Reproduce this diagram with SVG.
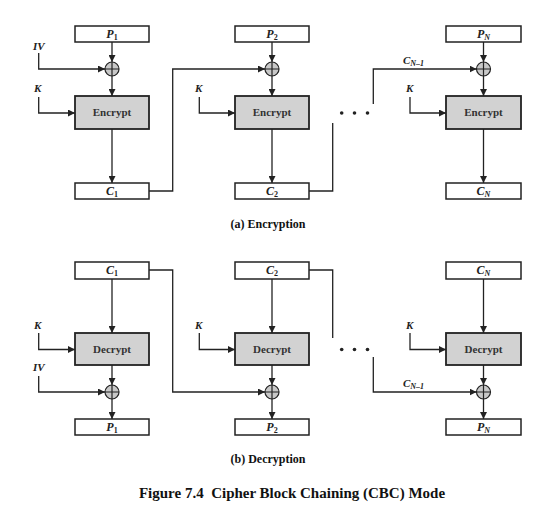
<svg xmlns="http://www.w3.org/2000/svg" width="546" height="526" viewBox="0 0 546 526">
<defs>
<marker id="ah" viewBox="0 0 10 10" refX="10" refY="5" markerWidth="7" markerHeight="7" markerUnits="userSpaceOnUse" orient="auto">
<path d="M0,0 L10,5 L0,10 z" fill="#222"/>
</marker>
<g id="xor">
<circle cx="0" cy="0" r="7" fill="#c8c8c8" stroke="#222" stroke-width="1.2"/>
<path d="M-7,0 H7 M0,-7 V7" stroke="#222" stroke-width="1.2"/>
</g>
</defs>
<style>
.box{fill:#fff;stroke:#222;stroke-width:1.5}
.cbox{fill:#d2d2d2;stroke:#222;stroke-width:1.8}
.ln{fill:none;stroke:#222;stroke-width:1.3}
.ar{fill:none;stroke:#222;stroke-width:1.3;marker-end:url(#ah)}
text{font-family:"Liberation Serif","Times New Roman","DejaVu Serif",serif}
.lbl{font-style:italic;font-weight:bold;font-size:11px;fill:#222}
.bt{font-style:italic;font-weight:bold;font-size:12px;fill:#222;text-anchor:middle}
.sub{font-size:8px}
.n{font-style:normal}
.ct{font-weight:bold;font-size:11px;fill:#333;text-anchor:middle}
.cap{font-weight:bold;font-size:12px;fill:#111;text-anchor:middle}
.fig{font-weight:bold;font-size:15px;fill:#111;text-anchor:middle}
.dot{fill:#222}
</style>
<rect width="546" height="526" fill="#fff"/>

<!-- Encryption -->
<g id="enc-p1"><rect class="box" x="75" y="26" width="74" height="16"/><text class="bt" x="112" y="38">P<tspan class="sub n" dy="2">1</tspan></text></g>
<g id="enc-p2"><rect class="box" x="235" y="26" width="74" height="16"/><text class="bt" x="272" y="38">P<tspan class="sub n" dy="2">2</tspan></text></g>
<g id="enc-pn"><rect class="box" x="446" y="26" width="75" height="16"/><text class="bt" x="483.5" y="38">P<tspan class="sub" dy="2">N</tspan></text></g>
<g id="enc-x1"><use href="#xor" x="112" y="69"/></g>
<g id="enc-x2"><use href="#xor" x="272" y="69"/></g>
<g id="enc-xn"><use href="#xor" x="483.5" y="69"/></g>
<g id="enc-e1"><rect class="cbox" x="75" y="96" width="74" height="33"/><text class="ct" x="112" y="116">Encrypt</text></g>
<g id="enc-e2"><rect class="cbox" x="235" y="96" width="74" height="33"/><text class="ct" x="272" y="116">Encrypt</text></g>
<g id="enc-en"><rect class="cbox" x="446" y="96" width="75" height="33"/><text class="ct" x="483.5" y="116">Encrypt</text></g>
<g id="enc-c1"><rect class="box" x="75" y="183" width="74" height="16"/><text class="bt" x="112" y="195">C<tspan class="sub n" dy="2">1</tspan></text></g>
<g id="enc-c2"><rect class="box" x="235" y="183" width="74" height="16"/><text class="bt" x="272" y="195">C<tspan class="sub n" dy="2">2</tspan></text></g>
<g id="enc-cn"><rect class="box" x="446" y="183" width="75" height="16"/><text class="bt" x="483.5" y="195">C<tspan class="sub" dy="2">N</tspan></text></g>
<g id="enc-labels">
<text class="lbl" x="33" y="50">IV</text>
<text class="lbl" x="34" y="92">K</text>
<text class="lbl" x="195" y="92">K</text>
<text class="lbl" x="406" y="92">K</text>
<text class="lbl" x="403" y="64">C<tspan class="sub" dy="2">N–1</tspan></text>
</g>
<g id="enc-dots"><circle class="dot" cx="341.7" cy="113" r="1.8"/><circle class="dot" cx="354.5" cy="113" r="1.8"/><circle class="dot" cx="367.5" cy="113" r="1.8"/></g>

<!-- Decryption -->
<g id="dec-c1"><rect class="box" x="75" y="262" width="74" height="17"/><text class="bt" x="112" y="274">C<tspan class="sub n" dy="2">1</tspan></text></g>
<g id="dec-c2"><rect class="box" x="235" y="262" width="74" height="17"/><text class="bt" x="272" y="274">C<tspan class="sub n" dy="2">2</tspan></text></g>
<g id="dec-cn"><rect class="box" x="446" y="262" width="75" height="17"/><text class="bt" x="483.5" y="274">C<tspan class="sub" dy="2">N</tspan></text></g>
<g id="dec-d1"><rect class="cbox" x="75" y="333" width="74" height="32"/><text class="ct" x="112" y="353">Decrypt</text></g>
<g id="dec-d2"><rect class="cbox" x="235" y="333" width="74" height="32"/><text class="ct" x="272" y="353">Decrypt</text></g>
<g id="dec-dn"><rect class="cbox" x="446" y="333" width="75" height="32"/><text class="ct" x="483.5" y="353">Decrypt</text></g>
<g id="dec-x1"><use href="#xor" x="112" y="392"/></g>
<g id="dec-x2"><use href="#xor" x="272" y="392"/></g>
<g id="dec-xn"><use href="#xor" x="483.5" y="392"/></g>
<g id="dec-p1"><rect class="box" x="75" y="419" width="74" height="16"/><text class="bt" x="112" y="431">P<tspan class="sub n" dy="2">1</tspan></text></g>
<g id="dec-p2"><rect class="box" x="235" y="419" width="74" height="16"/><text class="bt" x="272" y="431">P<tspan class="sub n" dy="2">2</tspan></text></g>
<g id="dec-pn"><rect class="box" x="446" y="419" width="75" height="16"/><text class="bt" x="483.5" y="431">P<tspan class="sub" dy="2">N</tspan></text></g>
<g id="dec-labels">
<text class="lbl" x="34" y="329">K</text>
<text class="lbl" x="195" y="329">K</text>
<text class="lbl" x="406" y="329">K</text>
<text class="lbl" x="33" y="371">IV</text>
<text class="lbl" x="403" y="387" font-style="normal">C<tspan class="sub" dy="2" font-style="italic">N–1</tspan></text>
</g>
<g id="dec-dots"><circle class="dot" cx="341.7" cy="349.5" r="1.8"/><circle class="dot" cx="354.5" cy="349.5" r="1.8"/><circle class="dot" cx="367.5" cy="349.5" r="1.8"/></g>

<g id="connectors">
<!-- encryption -->
<path class="ar" d="M112,42 V62"/>
<path class="ar" d="M272,42 V62"/>
<path class="ar" d="M483.5,42 V62"/>
<path class="ar" d="M112,76 V96"/>
<path class="ar" d="M272,76 V96"/>
<path class="ar" d="M483.5,76 V96"/>
<path class="ar" d="M112,129 V183"/>
<path class="ar" d="M272,129 V183"/>
<path class="ar" d="M483.5,129 V183"/>
<path class="ar" d="M38.7,53 V69 H105"/>
<path class="ar" d="M38.7,97 V113 H75"/>
<path class="ar" d="M199.3,97 V113 H235"/>
<path class="ar" d="M410,97 V113 H446"/>
<path class="ar" d="M149,191 H172.7 V69 H265"/>
<path class="ln" d="M309,191 H332.7 V123"/>
<path class="ar" d="M373.3,104 V69 H476.5"/>
<!-- decryption -->
<path class="ar" d="M112,279 V333"/>
<path class="ar" d="M272,279 V333"/>
<path class="ar" d="M483.5,279 V333"/>
<path class="ar" d="M112,365 V385"/>
<path class="ar" d="M272,365 V385"/>
<path class="ar" d="M483.5,365 V385"/>
<path class="ar" d="M112,399 V419"/>
<path class="ar" d="M272,399 V419"/>
<path class="ar" d="M483.5,399 V419"/>
<path class="ar" d="M38.7,333 V349.5 H75"/>
<path class="ar" d="M199.3,333 V349.5 H235"/>
<path class="ar" d="M410,333 V349.5 H446"/>
<path class="ar" d="M38.7,376 V392 H105"/>
<path class="ar" d="M149,270 H172.7 V392 H265"/>
<path class="ln" d="M309,270 H332.7 V338"/>
<path class="ar" d="M373.3,357 V392 H476.5"/>
</g>

<text class="cap" x="268" y="228">(a) Encryption</text>
<text class="cap" x="268" y="463">(b) Decryption</text>
<text class="fig" x="292" y="498" xml:space="preserve">Figure 7.4  Cipher Block Chaining (CBC) Mode</text>
</svg>
